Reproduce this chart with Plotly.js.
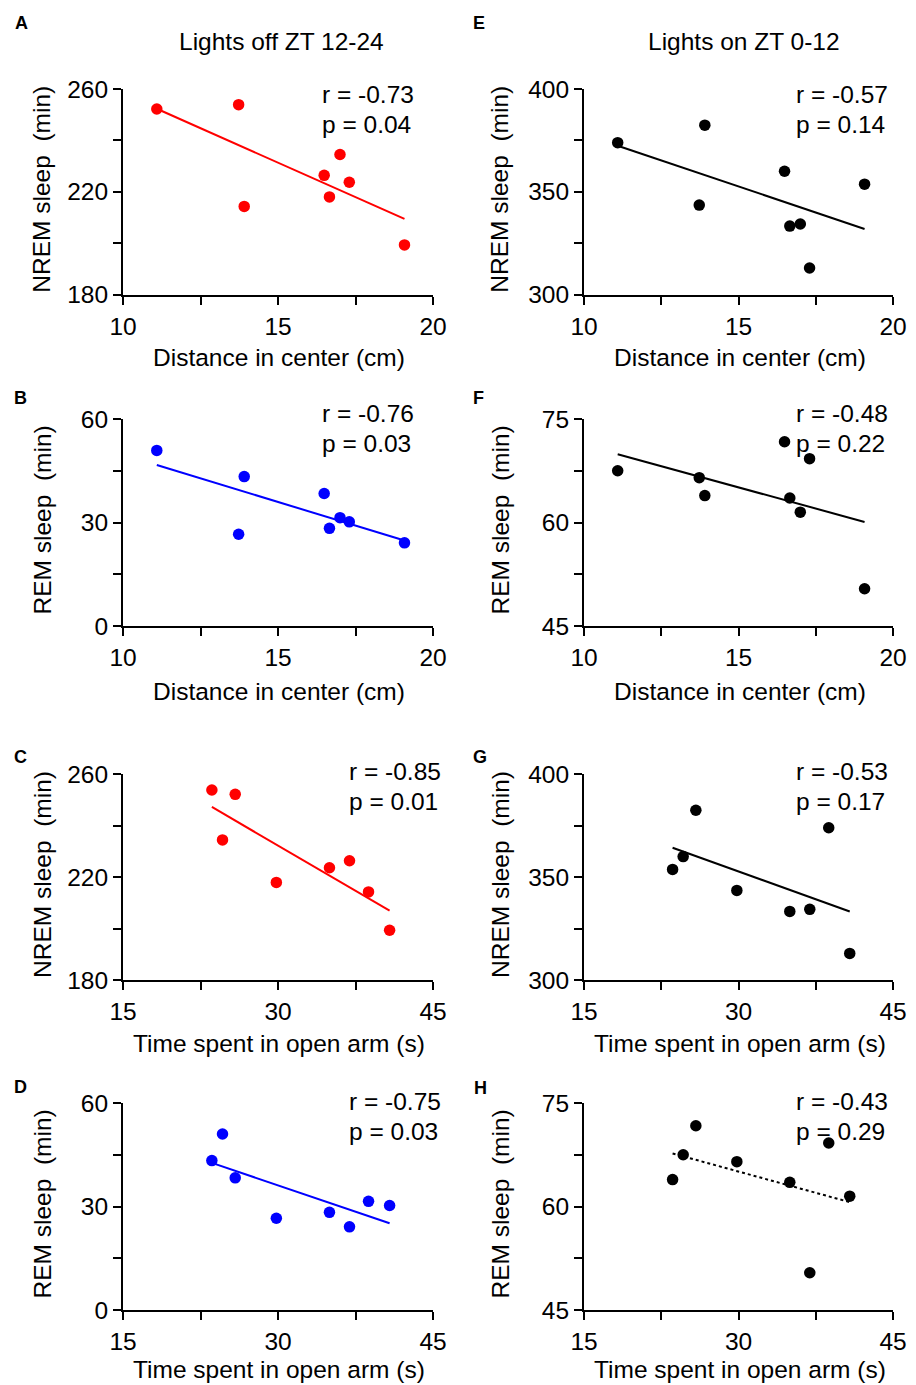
<!DOCTYPE html>
<html><head><meta charset="utf-8">
<script src="https://cdn.plot.ly/plotly-3.0.1.min.js"></script>
<style>html,body{margin:0;padding:0;background:#fff}</style>
</head><body><div id="chart" style="width:916px;height:1385px"></div>
<script>
// ---- data ----
const distance = [11.09, 13.73, 13.91, 16.49, 16.66, 17.00, 17.30, 19.08];
const openArmTime = [23.60, 24.63, 25.86, 29.84, 34.98, 36.92, 38.76, 40.80];
const nremDarkByDistance = [252.2, 253.9, 214.3, 226.4, 218.0, 234.5, 223.7, 199.3];
const remDarkByDistance = [50.9, 26.6, 43.3, 38.4, 28.3, 31.4, 30.2, 24.1];
const nremDarkByTime = [253.8, 234.4, 252.1, 217.9, 223.6, 226.3, 214.2, 199.3];
const remDarkByTime = [43.3, 51.0, 38.3, 26.6, 28.3, 24.1, 31.5, 30.3];
const nremLightByDistance = [373.9, 343.5, 382.4, 360.0, 333.3, 334.3, 312.9, 353.7];
const remLightByDistance = [67.5, 66.5, 63.9, 71.7, 63.55, 61.5, 69.25, 50.4];
const nremLightByTime = [353.7, 359.9, 382.4, 343.5, 333.3, 334.3, 373.9, 312.9];
const remLightByTime = [63.9, 67.5, 71.7, 66.5, 63.5, 50.4, 69.2, 61.5];
const rValues = ['-0.73', '-0.76', '-0.85', '-0.75', '-0.57', '-0.48', '-0.53', '-0.43'];
const pValues = ['0.04', '0.03', '0.01', '0.03', '0.14', '0.22', '0.17', '0.29'];
const panelLetters = ['A', 'B', 'C', 'D', 'E', 'F', 'G', 'H'];
const columnTitles = ['Lights off ZT 12-24', 'Lights on ZT 0-12'];
const xTitles = ['Distance in center (cm)', 'Time spent in open arm (s)'];
const yTitles = ['NREM sleep\u00a0 (min)', 'REM sleep\u00a0 (min)'];
const distanceTicks = [10, 15, 20];
const timeTicks = [15, 30, 45];
const nremDarkTicks = [180, 220, 260];
const remDarkTicks = [0, 30, 60];
const nremLightTicks = [300, 350, 400];
const remLightTicks = [45, 60, 75];

// ---- panel definitions ----
const RED = '#ff0000', BLUE = '#0000ff', BLACK = '#000000';
const panels = [
  {col:0,row:0,x:distance,y:nremDarkByDistance,xt:distanceTicks,yt:nremDarkTicks,c:RED,dash:'solid',xtl:0,ytl:0},
  {col:0,row:1,x:distance,y:remDarkByDistance,xt:distanceTicks,yt:remDarkTicks,c:BLUE,dash:'solid',xtl:0,ytl:1},
  {col:0,row:2,x:openArmTime,y:nremDarkByTime,xt:timeTicks,yt:nremDarkTicks,c:RED,dash:'solid',xtl:1,ytl:0},
  {col:0,row:3,x:openArmTime,y:remDarkByTime,xt:timeTicks,yt:remDarkTicks,c:BLUE,dash:'solid',xtl:1,ytl:1},
  {col:1,row:0,x:distance,y:nremLightByDistance,xt:distanceTicks,yt:nremLightTicks,c:BLACK,dash:'solid',xtl:0,ytl:0},
  {col:1,row:1,x:distance,y:remLightByDistance,xt:distanceTicks,yt:remLightTicks,c:BLACK,dash:'solid',xtl:0,ytl:1},
  {col:1,row:2,x:openArmTime,y:nremLightByTime,xt:timeTicks,yt:nremLightTicks,c:BLACK,dash:'solid',xtl:1,ytl:0},
  {col:1,row:3,x:openArmTime,y:remLightByTime,xt:timeTicks,yt:remLightTicks,c:BLACK,dash:'dot',xtl:1,ytl:1}
];

// pixel geometry of the plot areas
const W = 916, H = 1385;
const colL = [123, 584], colR = [433, 893];
const rowT = [89, 419, 774, 1103], rowB = [294.5, 626, 980, 1310];
const xTitleY = [357, 691, 1043, 1369];
const yTitleX = [42, 500];
const statX = [[320, 320, 347, 347], [794, 794, 794, 794]];
const statY = [95, 413, 771, 1101];
const letterPos = [[21, 23], [20, 398], [20, 757], [20, 1087], [479, 23], [478, 398], [480, 757], [480, 1088]];

const FONT = 'Liberation Sans, Arial, Helvetica, sans-serif';
const FS = 24.5;
const px = v => v / W, py = v => 1 - v / H;

function fit(x, y) {
  const n = x.length;
  const mx = x.reduce((a, b) => a + b, 0) / n, my = y.reduce((a, b) => a + b, 0) / n;
  let sxy = 0, sxx = 0;
  for (let i = 0; i < n; i++) { sxy += (x[i] - mx) * (y[i] - my); sxx += (x[i] - mx) ** 2; }
  const b = sxy / sxx, a = my - b * mx;
  const x0 = Math.min(...x), x1 = Math.max(...x);
  return {x: [x0, x1], y: [a + b * x0, a + b * x1]};
}

const data = [];
const layout = {
  width: W, height: H, margin: {l: 0, r: 0, t: 0, b: 0},
  paper_bgcolor: '#fff', plot_bgcolor: '#fff', showlegend: false,
  font: {family: FONT, size: FS, color: '#000'},
  annotations: []
};

panels.forEach((p, i) => {
  const k = i + 1;
  const xa = 'x' + k, ya = 'y' + k;
  const f = fit(p.x, p.y);
  data.push({x: f.x, y: f.y, xaxis: xa, yaxis: ya, mode: 'lines', type: 'scatter',
    line: {color: p.c, width: 2, dash: p.dash}, hoverinfo: 'skip'});
  data.push({x: p.x, y: p.y, xaxis: xa, yaxis: ya, mode: 'markers', type: 'scatter',
    marker: {color: p.c, size: 11.5}, cliponaxis: false});
  const common = {showline: true, linecolor: '#000', linewidth: 2, ticks: 'outside', ticklen: 8,
    tickwidth: 2, tickcolor: '#000', showgrid: false, zeroline: false, fixedrange: true,
    tickfont: {family: FONT, size: FS, color: '#000'}};
  const xr = [p.xt[0], p.xt[2]], yr = [p.yt[0], p.yt[2]];
  layout['xaxis' + k] = Object.assign({}, common, {
    domain: [px(colL[p.col]), px(colR[p.col])], anchor: ya, range: xr,
    tickmode: 'array', tickvals: p.xt, ticklabelstandoff: 1,
    minor: {tickmode: 'linear', tick0: xr[0], dtick: (xr[1] - xr[0]) / 4, ticks: 'outside', ticklen: 8, tickwidth: 2, tickcolor: '#000', showgrid: false}
  });
  layout['yaxis' + k] = Object.assign({}, common, {
    domain: [py(rowB[p.row]), py(rowT[p.row])], anchor: xa, range: yr,
    tickmode: 'array', tickvals: p.yt, ticklabelstandoff: 0,
    minor: {tickmode: 'linear', tick0: yr[0], dtick: (yr[1] - yr[0]) / 4, ticks: 'outside', ticklen: 8, tickwidth: 2, tickcolor: '#000', showgrid: false}
  });
  const A = layout.annotations;
  const cx = (colL[p.col] + colR[p.col]) / 2, cy = (rowT[p.row] + rowB[p.row]) / 2;
  A.push({xref: 'paper', yref: 'paper', x: px(cx + 1), y: py(xTitleY[p.row]), text: xTitles[p.xtl],
    showarrow: false, xanchor: 'center', yanchor: 'middle', font: {family: FONT, size: FS, color: '#000'}});
  A.push({xref: 'paper', yref: 'paper', x: px(yTitleX[p.col]), y: py(cy - 2), text: yTitles[p.ytl], textangle: -90,
    showarrow: false, xanchor: 'center', yanchor: 'middle', font: {family: FONT, size: FS, color: '#000'}});
  A.push({xref: 'paper', yref: 'paper', x: px(statX[p.col][p.row]), y: py(statY[p.row]), text: 'r = ' + rValues[i],
    showarrow: false, xanchor: 'left', yanchor: 'middle', font: {family: FONT, size: FS, color: '#000'}});
  A.push({xref: 'paper', yref: 'paper', x: px(statX[p.col][p.row]), y: py(statY[p.row] + 30), text: 'p = ' + pValues[i],
    showarrow: false, xanchor: 'left', yanchor: 'middle', font: {family: FONT, size: FS, color: '#000'}});
  A.push({xref: 'paper', yref: 'paper', x: px(letterPos[i][0]), y: py(letterPos[i][1]), text: '<b>' + panelLetters[i] + '</b>',
    showarrow: false, xanchor: 'center', yanchor: 'middle', font: {family: FONT, size: 18, color: '#000'}});
});
layout.annotations.push({xref: 'paper', yref: 'paper', x: px(281), y: py(42), text: columnTitles[0],
  showarrow: false, xanchor: 'center', yanchor: 'middle', font: {family: FONT, size: FS, color: '#000'}});
layout.annotations.push({xref: 'paper', yref: 'paper', x: px(744), y: py(42), text: columnTitles[1],
  showarrow: false, xanchor: 'center', yanchor: 'middle', font: {family: FONT, size: FS, color: '#000'}});

Plotly.newPlot('chart', data, layout, {staticPlot: true, displayModeBar: false});
</script></body></html>
